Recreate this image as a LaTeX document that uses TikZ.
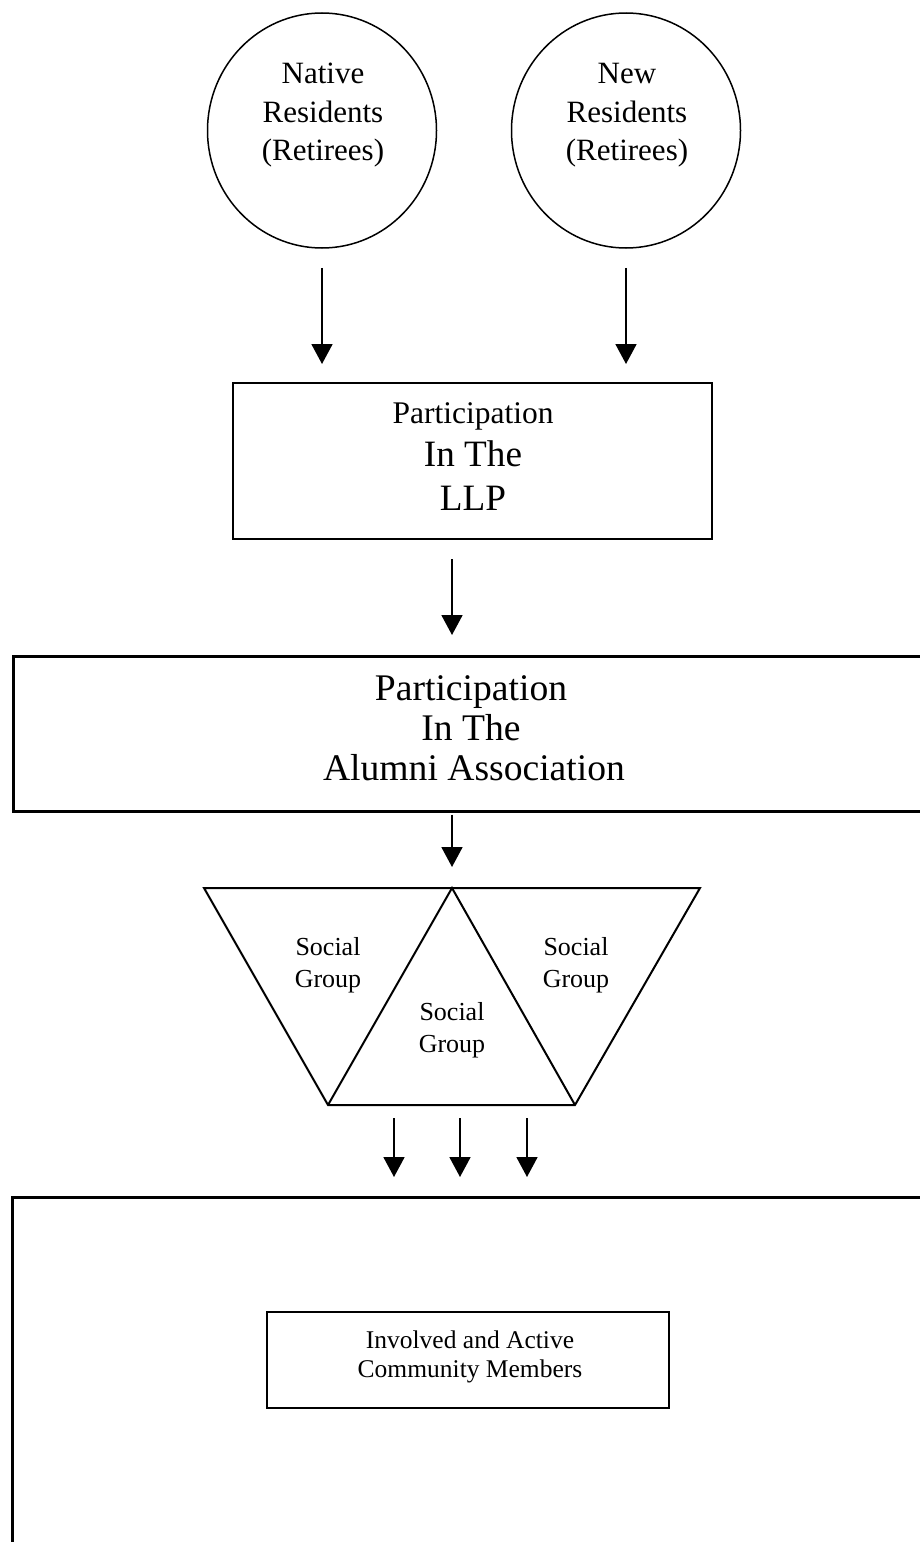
\documentclass[tikz,border=0pt]{standalone}
\usepackage{fontspec}
\setmainfont{Liberation Serif}
\usetikzlibrary{arrows.meta,shapes.geometric}
\begin{document}
\begin{tikzpicture}[x=0.5pt,y=-0.5pt,
  circ/.style={draw, ellipse, line width=0.75pt, minimum width=114.5pt, minimum height=117.5pt, inner sep=0pt},
  boxnode/.style={draw, rectangle, line width=1pt, inner sep=0pt},
  bigbox/.style={draw, rectangle, line width=1.3pt, inner sep=0pt, anchor=north west},
  arr/.style={line width=0.9pt, -{Triangle[width=10.5pt,length=10pt]}},
  txt/.style={anchor=base, inner sep=0pt},
  ctext/.style={txt, font=\fontsize{15.5}{18}\selectfont},
  llpsmall/.style={txt, font=\fontsize{15.75}{18}\selectfont},
  llpbig/.style={txt, font=\fontsize{18.6}{22}\selectfont},
  alumtext/.style={txt, font=\fontsize{18.8}{22}\selectfont},
  soctext/.style={txt, font=\fontsize{13}{16}\selectfont},
  invtext/.style={txt, font=\fontsize{12.75}{15}\selectfont}
]
\useasboundingbox (0,0) rectangle (920,1542);
\clip (0,0) rectangle (920,1542);

% circles
\node[circ] (nat) at (322,130.5) {};
\node[circ] (new) at (626,130.5) {};
\node[ctext] (nat1) at (323,83) {Native};
\node[ctext] (nat2) at (323,122) {Residents};
\node[ctext] (nat3) at (323,160) {(Retirees)};
\node[ctext] (new1) at (627,83) {New};
\node[ctext] (new2) at (627,122) {Residents};
\node[ctext] (new3) at (627,160) {(Retirees)};

% LLP box
\node[boxnode, minimum width=239.5pt, minimum height=78pt] (llp) at (472.5,461) {};
\node[llpsmall] (llp1) at (473,423) {Participation};
\node[llpbig] (llp2) at (473,466) {In The};
\node[llpbig] (llp3) at (473,510) {LLP};

% Alumni box
\node[bigbox, minimum width=470pt, minimum height=77.5pt] (alum) at (12,655) {};
\node[alumtext] (al1) at (471,700) {Participation};
\node[alumtext] (al2) at (471,740) {In The};
\node[alumtext] (al3) at (474,780) {Alumni Association};

% trapezoid of social groups
\coordinate (tl) at (204,888);
\coordinate (apex) at (452,888);
\coordinate (tr) at (700,888);
\coordinate (bl) at (328,1105);
\coordinate (br) at (575,1105);
\draw[line width=1pt, line join=miter] (tl) -- (tr) -- (br) -- (bl) -- cycle;
\draw[line width=1pt, line join=miter] (bl) -- (apex) -- (br);
\node[soctext] (sg1a) at (328,955) {Social};
\node[soctext] (sg1b) at (328,987) {Group};
\node[soctext] (sg2a) at (452,1020) {Social};
\node[soctext] (sg2b) at (452,1052) {Group};
\node[soctext] (sg3a) at (576,955) {Social};
\node[soctext] (sg3b) at (576,987) {Group};

% bottom box
\node[bigbox, minimum width=470pt, minimum height=200pt] (bot) at (11,1196) {};
\node[boxnode, minimum width=201pt, minimum height=48pt] (inv) at (468,1360) {};
\node[invtext] (inv1) at (470,1348) {Involved and Active};
\node[invtext] (inv2) at (470,1377) {Community Members};

% arrows
\draw[arr, shorten <=9.5pt, shorten >=9pt] (nat.south) -- (nat.south |- llp.north);
\draw[arr, shorten <=9.5pt, shorten >=9pt] (new.south) -- (new.south |- llp.north);
\draw[arr, shorten <=9.5pt, shorten >=10pt] (apex |- llp.south) -- (apex |- alum.north);
\draw[arr, shorten <=1pt, shorten >=10.5pt] (apex |- alum.south) -- (apex);
\coordinate (s1) at (394,1105);
\coordinate (s2) at (460,1105);
\coordinate (s3) at (527,1105);
\draw[arr, shorten <=6.5pt, shorten >=9.5pt] (s1) -- (s1 |- bot.north);
\draw[arr, shorten <=6.5pt, shorten >=9.5pt] (s2) -- (s2 |- bot.north);
\draw[arr, shorten <=6.5pt, shorten >=9.5pt] (s3) -- (s3 |- bot.north);
\end{tikzpicture}
\end{document}
